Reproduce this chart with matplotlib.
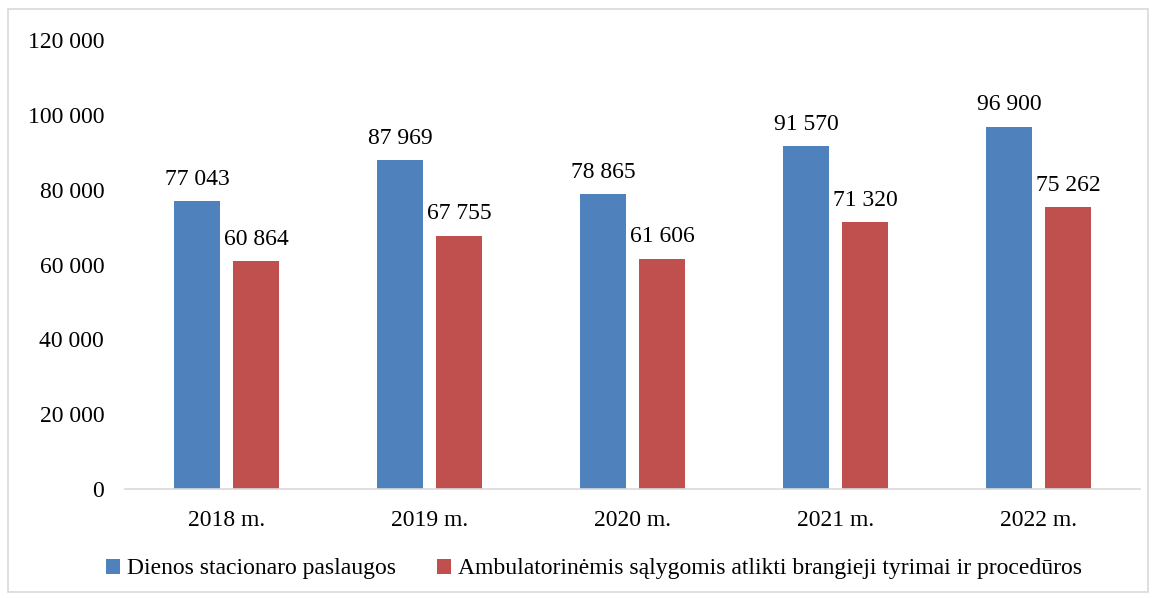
import numpy as np
import matplotlib.pyplot as plt
from matplotlib.patches import Rectangle

years = ['2018 m.', '2019 m.', '2020 m.', '2021 m.', '2022 m.']
dienos = [77043, 87969, 78865, 91570, 96900]
ambulatorines = [60864, 67755, 61606, 71320, 75262]
series_names = ['Dienos stacionaro paslaugos',
                'Ambulatorinėmis sąlygomis atlikti brangieji tyrimai ir procedūros']
yticks = [0, 20000, 40000, 60000, 80000, 100000, 120000]

plt.rcParams['font.family'] = ['Liberation Serif', 'DejaVu Serif']
fs = 17

fig = plt.figure(figsize=(11.58, 5.98), dpi=100)
ax = fig.add_axes([0.108, 0.182, 0.8765, 0.751])

def fmt(v):
    return f'{v:,}'.replace(',', ' ')

x = np.arange(len(years))
w = 0.226
b1 = ax.bar(x - 0.145, dienos, w, color='#4F81BD', label=series_names[0])
b2 = ax.bar(x + 0.145, ambulatorines, w, color='#C0504D', label=series_names[1])

for bars in (b1, b2):
    for r in bars:
        ax.annotate(fmt(int(r.get_height())), (r.get_x() + r.get_width() / 2, r.get_height()),
                    xytext=(0, 8), textcoords='offset points', ha='center', va='bottom',
                    fontsize=fs)

ax.set_xlim(-0.5, len(years) - 0.5)
ax.set_ylim(0, 120000)
ax.set_yticks(yticks)
ax.set_yticklabels([fmt(v) for v in yticks], fontsize=fs)
ax.set_xticks(x)
ax.set_xticklabels(years, fontsize=fs)
ax.tick_params(axis='y', length=0, pad=15)
ax.tick_params(axis='x', length=0, pad=15)
for s in ('top', 'right', 'left'):
    ax.spines[s].set_visible(False)
ax.spines['bottom'].set_color('#D9D9D9')
ax.spines['bottom'].set_linewidth(1.2)

fig.legend(loc='center', bbox_to_anchor=(0.513, 0.0485), ncol=2, frameon=False,
           fontsize=fs, handlelength=0.62, handleheight=0.62, handletextpad=0.3,
           columnspacing=1.7)

fig.patches.append(Rectangle((0.007, 0.01), 0.984, 0.975, transform=fig.transFigure,
                             fill=False, edgecolor='#D9D9D9', linewidth=1.2))

fig.savefig('out.png', dpi=100)
